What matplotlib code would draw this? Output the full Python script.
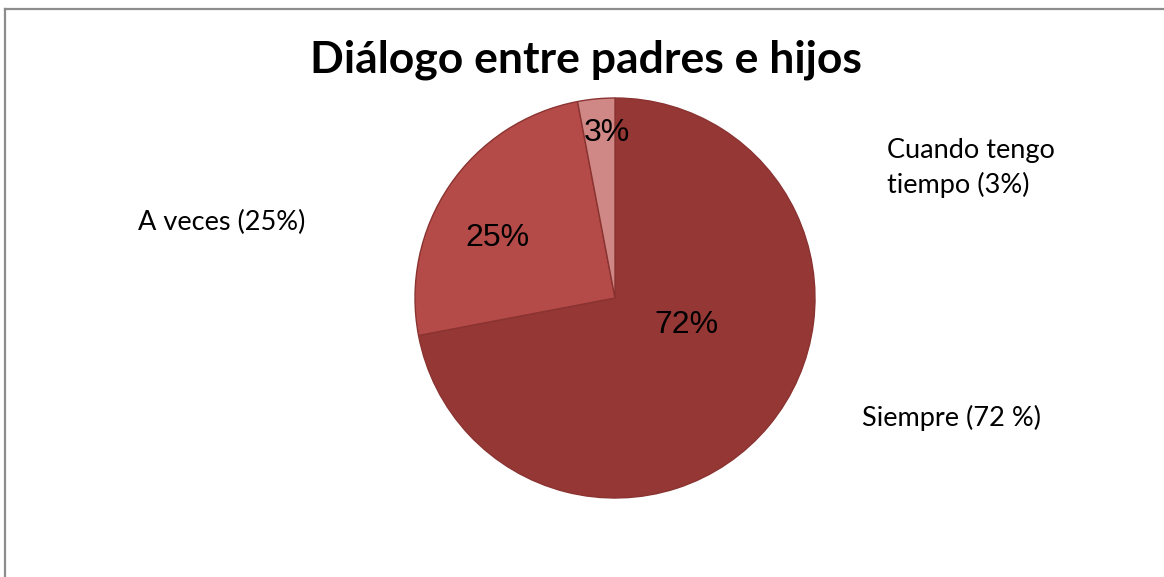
import matplotlib.pyplot as plt
from matplotlib.lines import Line2D

## Data
categories = ["Siempre", "A veces", "Cuando tengo tiempo"]
values = [72, 25, 3]
pct_labels = ["72%", "25%", "3%"]
outer_labels = ["Siempre (72 %)", "A veces (25%)", "Cuando tengo\ntiempo (3%)"]

## Styles
wedge_colors = ["#953735", "#B44B48", "#D08886"]
edge_color = "#8A3331"
pct_pos = [(686, 325), (497, 238), (607, 133)]
outer_pos = [(862, 418, "left"), (305, 222, "right"), (887, 168, "left")]

W, H = 1164, 577
fig = plt.figure(figsize=(W / 100, H / 100), dpi=100)
ax = fig.add_axes([0, 0, 1, 1])

## Pie (y axis inverted, so counterclock=True draws clockwise on screen)
ax.pie(values, colors=wedge_colors, startangle=-90, counterclock=True,
       center=(615, 298), radius=200, frame=True,
       wedgeprops=dict(edgecolor=edge_color, linewidth=1))
ax.set_xlim(0, W)
ax.set_ylim(H, 0)
ax.set_aspect("equal")
ax.axis("off")

## Percent labels
for txt, (x, y) in zip(pct_labels, pct_pos):
    ax.text(x, y, txt, ha="center", va="center", fontsize=23,
            family="Liberation Sans", color="black")

## Outer category labels
for txt, (x, y, ha) in zip(outer_labels, outer_pos):
    ax.text(x, y, txt, ha=ha, va="center", fontsize=19.5, family="Lato",
            linespacing=1.38, color="black")

## Title
ax.text(586, 60, "Diálogo entre padres e hijos", ha="center", va="center",
        fontsize=32, fontweight="bold", family="Lato")

## Chart border (only top and left visible)
fig.add_artist(Line2D([5 / W, 5 / W], [0, 1 - 9 / H], transform=fig.transFigure,
                      color="#8C8C8C", linewidth=1.6))
fig.add_artist(Line2D([5 / W, 1], [1 - 9 / H, 1 - 9 / H], transform=fig.transFigure,
                      color="#8C8C8C", linewidth=1.6))

fig.savefig("out.png", dpi=100)
